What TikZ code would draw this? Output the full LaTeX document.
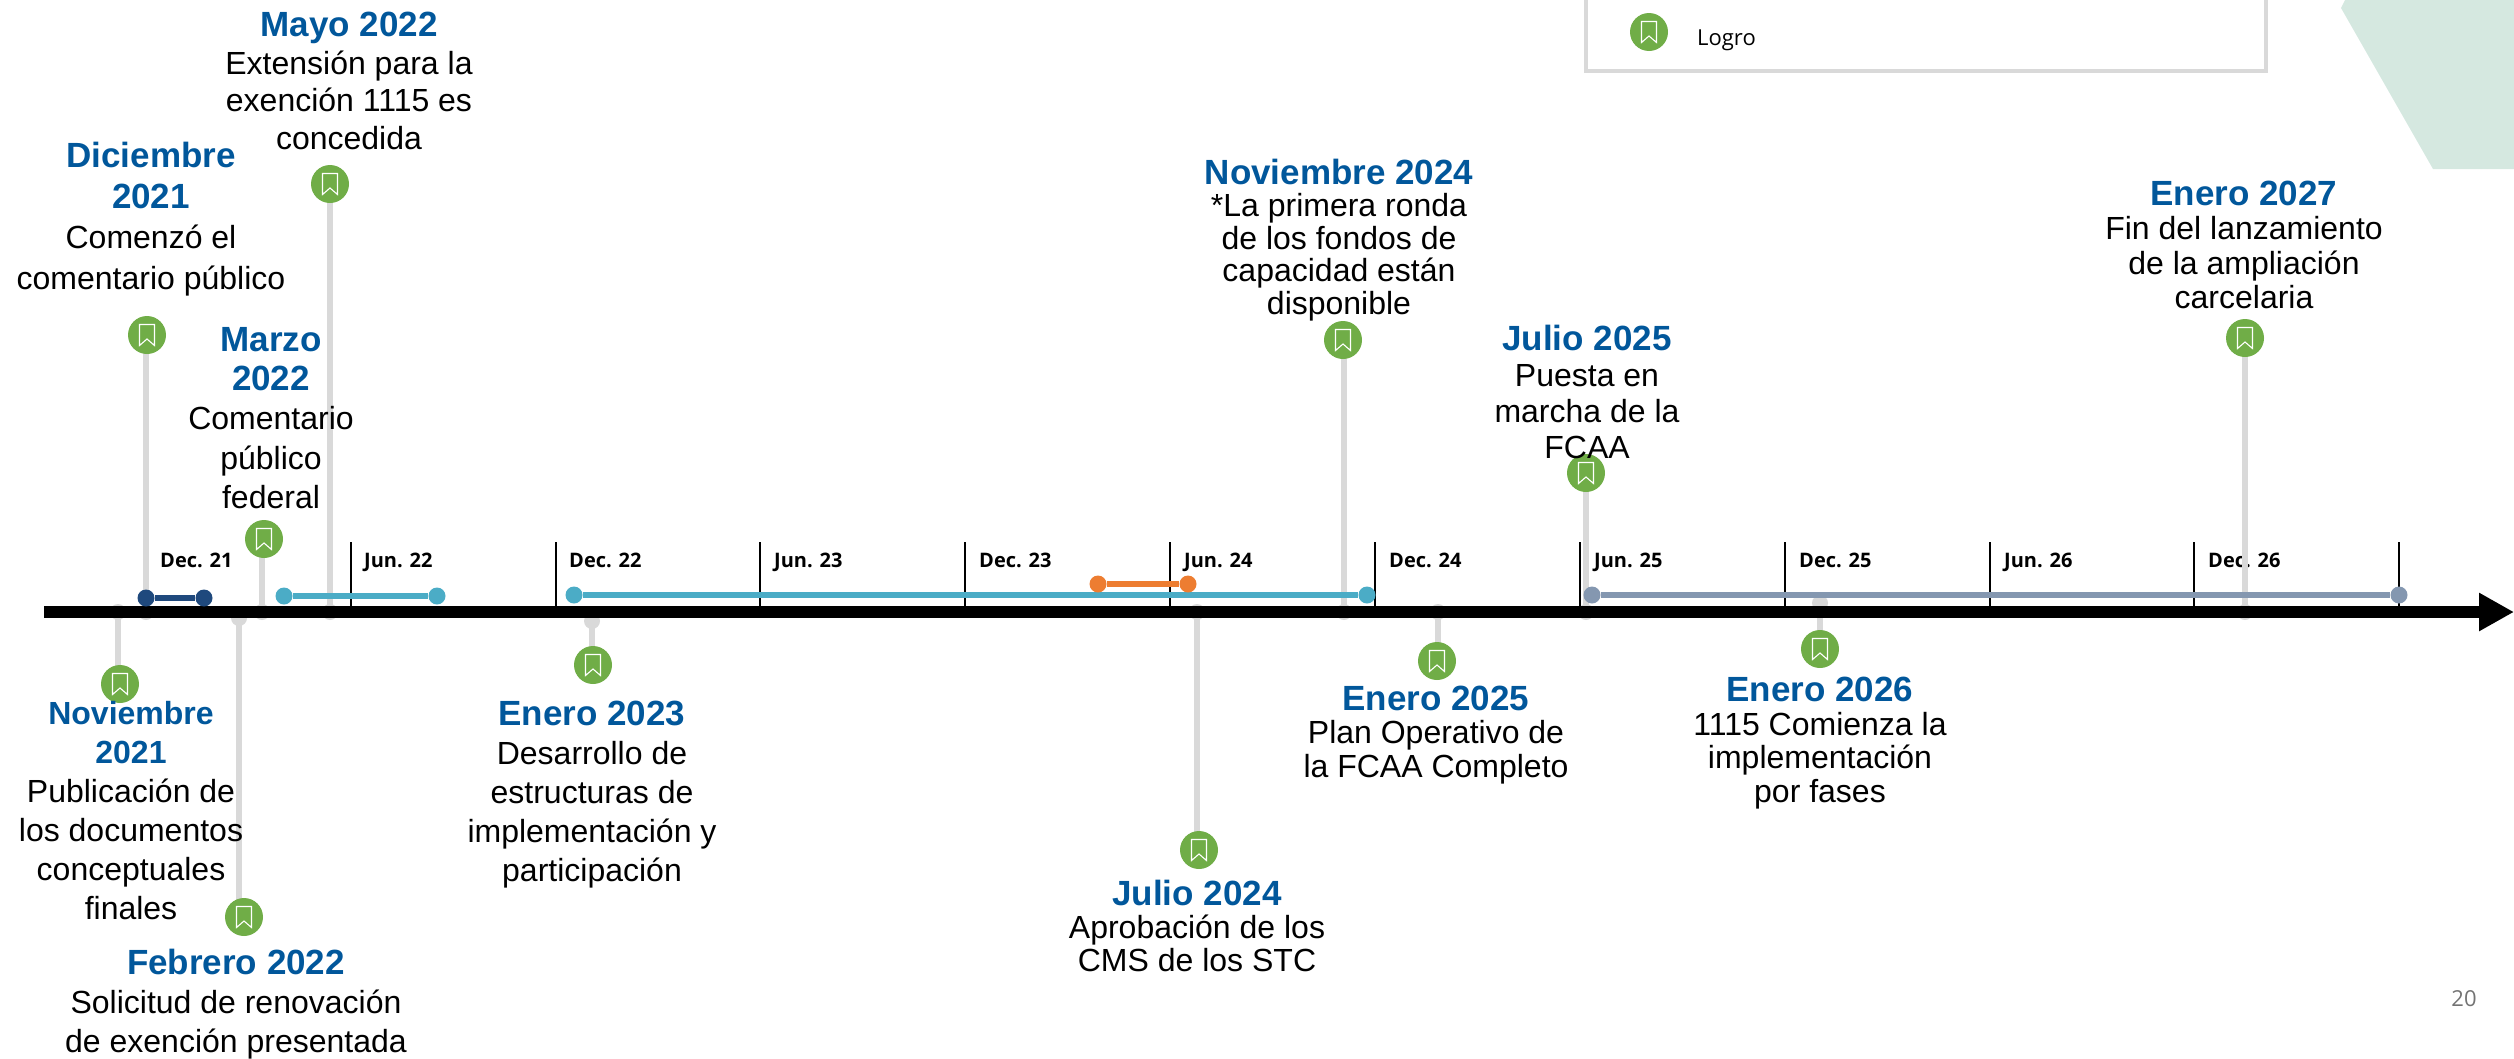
\documentclass[tikz,border=0pt]{standalone}
\usepackage{fontspec}
\setmainfont{Liberation Sans}
\newfontfamily\opensf{Open Sans}
\usetikzlibrary{arrows.meta,calc}
\definecolor{ttlblue}{HTML}{01579B}
\definecolor{stemgray}{HTML}{D9D9D9}
\definecolor{msgreen}{HTML}{70AD47}
\definecolor{navybar}{HTML}{1F497D}
\definecolor{tealbar}{HTML}{4BACC6}
\definecolor{orangebar}{HTML}{ED7D31}
\definecolor{slatebar}{HTML}{8497B0}
\definecolor{hexgreen}{HTML}{D5E8E0}
\newcommand\ttl[1]{{\fontsize{35}{33}\selectfont\bfseries\color{ttlblue}#1}}
\newcommand\ttlsm[1]{{\fontsize{32}{33}\selectfont\bfseries\color{ttlblue}#1}}
\newcommand\mstone[2]{\node[icon] (#1) at (#2) {};
  \draw[bmark] ($(#1)+(-7.5,-10.5)$) -- ($(#1)+(7.5,-10.5)$) -- ($(#1)+(7.5,10.5)$) -- ($(#1)+(0,4)$) -- ($(#1)+(-7.5,10.5)$) -- cycle;}
\tikzset{
  x=1pt,y=-1pt,
  icon/.style={circle,fill=msgreen,draw=none,minimum size=38pt,inner sep=0pt},
  bmark/.style={draw=white,line width=1.1pt,line join=miter},
  stemline/.style={draw=stemgray,line width=5.5pt},
  stemdot/.style={circle,fill=stemgray,draw=none,minimum size=16pt,inner sep=0pt},
  evtext/.style={align=center,inner sep=0pt,font=\fontsize{32}{#1}\selectfont},
  ticksty/.style={draw=black,line width=2.4pt},
  datelab/.style={anchor=base west,inner sep=0pt,font=\opensf\bfseries\fontsize{20}{22}\selectfont},
  barline/.style={line width=5.5pt},
  barend/.style={circle,draw=none,minimum size=17pt,inner sep=0pt},
}
\begin{document}
\begin{tikzpicture}
\useasboundingbox (0,0) rectangle (2514,1058);
% background shape
\fill[hexgreen] (2345,0) -- (2341,8) -- (2433,169) -- (2514,169) -- (2514,0) -- cycle;
% legend
\coordinate (lgA) at (1586,0);\coordinate (lgB) at (1586,71);\coordinate (lgC) at (2266,71);\coordinate (lgD) at (2266,0);
\draw[stemgray,line width=4pt] (lgA) -- (lgB) -- (lgC) -- (lgD);
\mstone{lgicon}{1649,32}
\node[anchor=base west,inner sep=0pt,font=\opensf\fontsize{22}{26}\selectfont] (lgtext) at (1697,45) {Logro};
% date labels
\foreach \n/\x/\t in {a/160/Dec. 21,b/364/Jun. 22,c/569/Dec. 22,d/774/Jun. 23,e/979/Dec. 23,f/1184/Jun. 24,g/1389/Dec. 24,h/1594/Jun. 25,i/1799/Dec. 25,j/2004/Jun. 26,k/2208/Dec. 26}
  \node[datelab] (lab\n) at (\x,567) {\t};
% stems: dot on axis to icon
\foreach \n/\x/\y/\ix/\iy in {
  p/146/612/147/335, q/262/612/264/539, r/330/612/330/184, s/1344/612/1343/340, t/1586/612/1586/473, u/2245/612/2245/338,
  v/118/612/120/684, w/239/618/244/917, z/592/621/593/665, y/1197/612/1199/850, m/1438/612/1437/661, o/1820/603/1820/649}{
  \node[stemdot] (dot\n) at (\x,\y) {};
  \coordinate (top\n) at (\x,\iy);
  \draw[stemline] (dot\n.center) -- (top\n);
  \mstone{ic\n}{\ix,\iy}
}
% ticks
\foreach \n/\x in {b/351,c/556,d/760,e/965,f/1170,g/1375,h/1580,i/1785,j/1990,k/2194,l/2399}{
  \coordinate (tt\n) at (\x,542);\coordinate (tb\n) at (\x,607);
  \draw[ticksty] (tt\n) -- (tb\n);
}
% axis
\coordinate (axL) at (44,612);\coordinate (axR) at (2514,612);
\draw[black,line width=11.5pt,-{Triangle[length=35pt,width=36pt]}] (axL) -- (axR);
% bars
\foreach \n/\c/\xa/\xb/\yy in {na/navybar/146/204/598, tb/tealbar/284/437/596, tc/tealbar/574/1367/595, or/orangebar/1098/1188/584, sl/slatebar/1592/2399/595}{
  \node[barend,fill=\c] (\n L) at (\xa,\yy) {};
  \node[barend,fill=\c] (\n R) at (\xb,\yy) {};
  \draw[barline,draw=\c] (\n L) -- (\n R);
}
% event texts
\node[evtext=40.5] (t1) at (151,219) {\ttl{Diciembre}\\\ttl{2021}\\Comenzó el\\comentario público};
\node[evtext=39.3] (t2) at (271,418) {\ttl{Marzo}\\\ttl{2022}\\Comentario\\público\\federal};
\node[evtext=37.5] (t3) at (349,81) {\ttl{Mayo 2022}\\Extensión para la\\exención 1115 es\\concedida};
\node[evtext=32.5] (t4) at (1339,240) {\ttl{Noviembre 2024}\\*La primera ronda\\de los fondos de\\capacidad están\\disponible};
\node[evtext=36] (t5) at (1587,392) {\ttl{Julio 2025}\\Puesta en\\marcha de la\\FCAA};
\node[evtext=34.4] (t6) at (2244,245) {\ttl{Enero 2027}\\Fin del lanzamiento\\de la ampliación\\carcelaria};
\node[evtext=39] (t7) at (131,811) {\ttlsm{Noviembre}\\\ttlsm{2021}\\Publicación de\\los documentos\\conceptuales\\finales};
\node[evtext=39] (t8) at (236,1004) {\ttl{Febrero 2022}\\Solicitud de renovación\\de exención presentada};
\node[evtext=39] (t9) at (592,795) {\ttl{Enero 2023}\\Desarrollo de\\estructuras de\\implementación y\\participación};
\node[evtext=33] (t10) at (1197,926) {\ttl{Julio 2024}\\Aprobación de los\\CMS de los STC};
\node[evtext=33.6] (t11) at (1436,735) {\ttl{Enero 2025}\\Plan Operativo de\\la FCAA Completo};
\node[evtext=33.6] (t12) at (1820,743) {\ttl{Enero 2026}\\1115 Comienza la\\implementación\\por fases};
% page number
\node[inner sep=0pt,text=black!55,font=\opensf\fontsize{22}{26}\selectfont] (pg) at (2464,999) {20};
\end{tikzpicture}
\end{document}
